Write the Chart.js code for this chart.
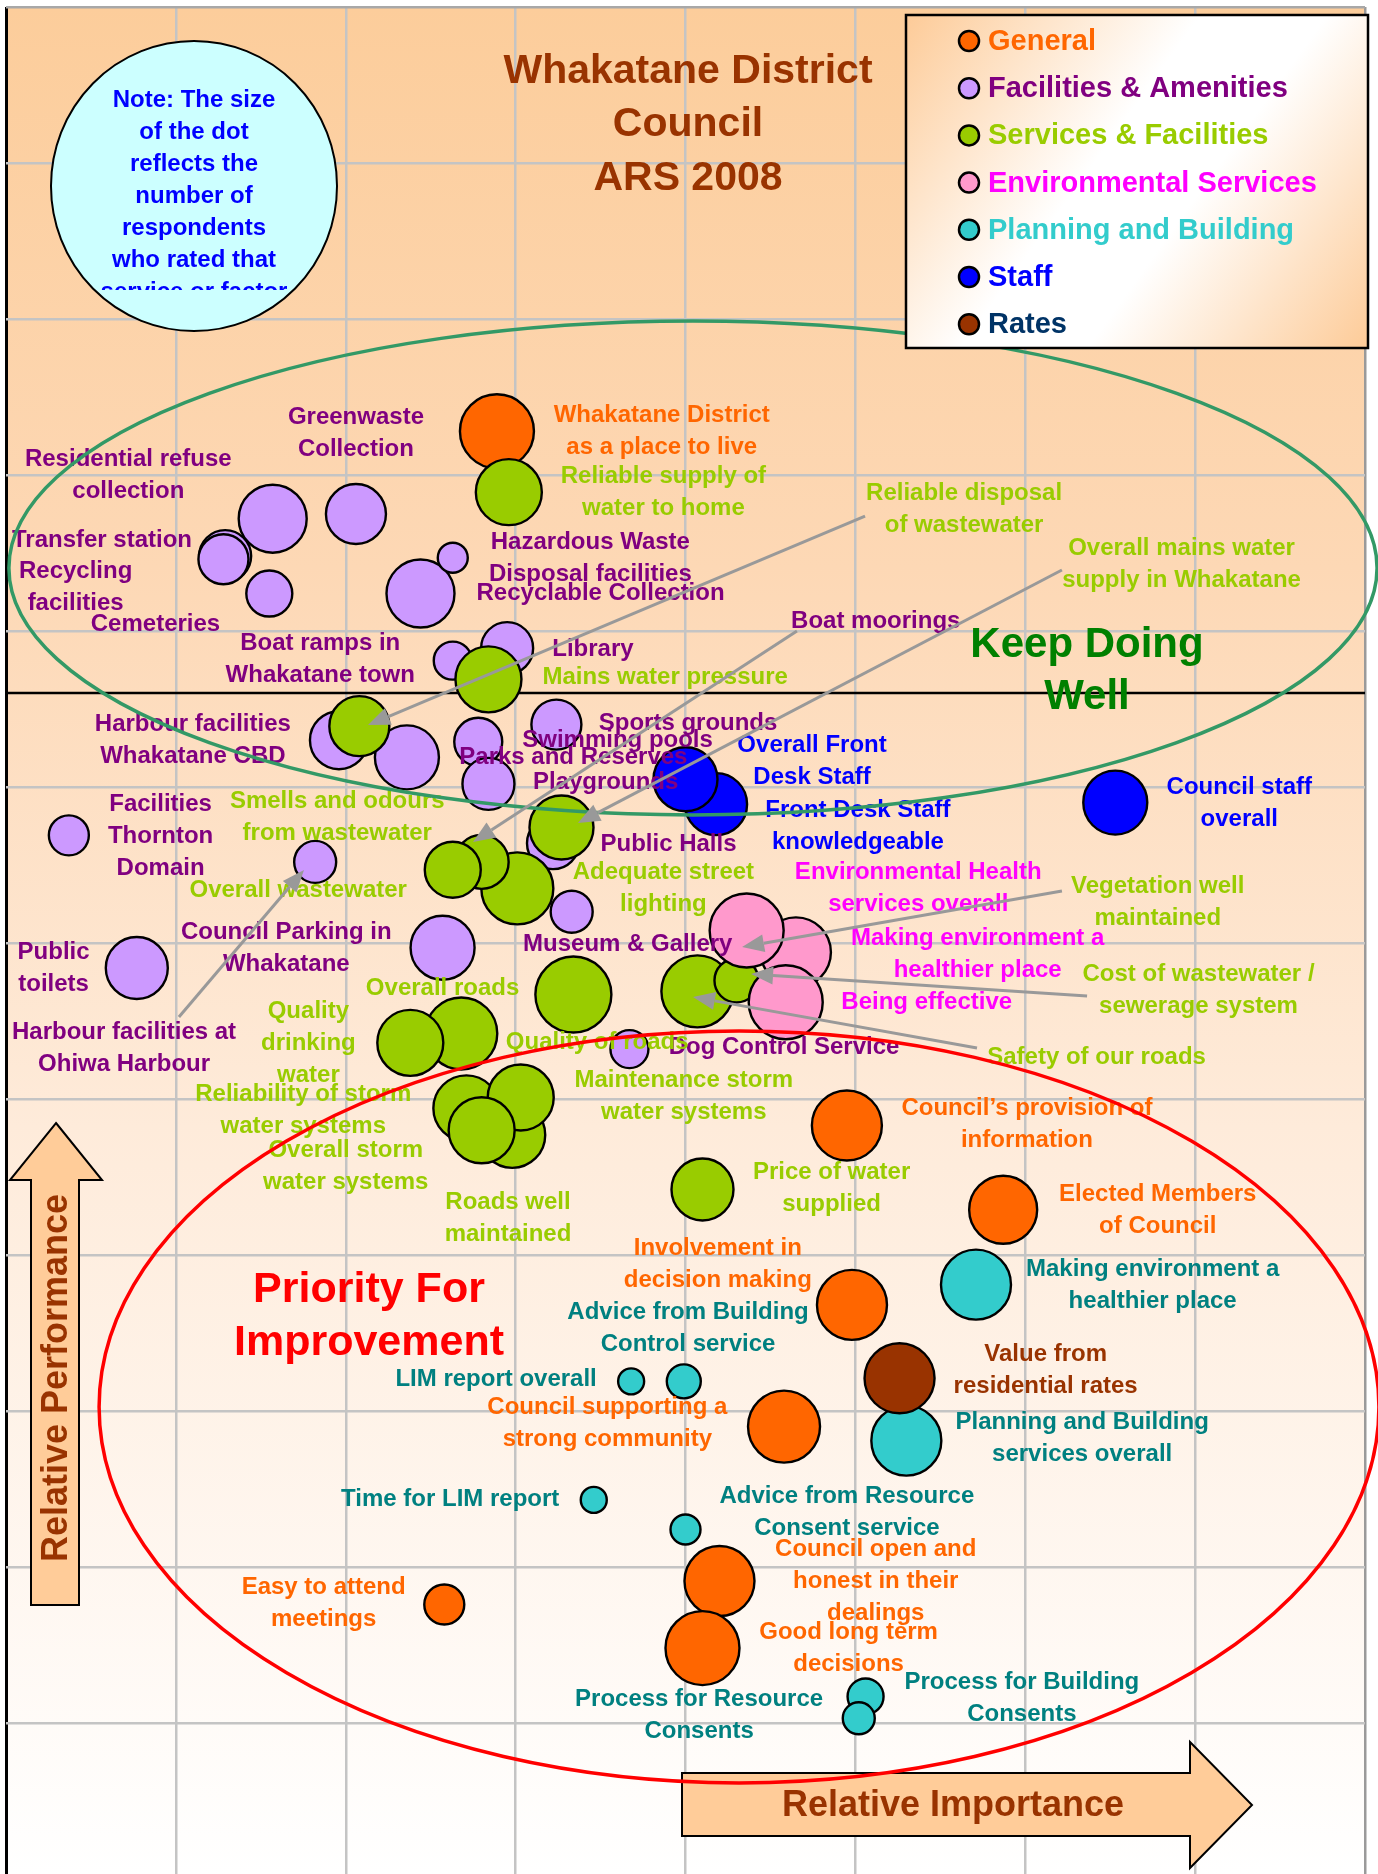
<!DOCTYPE html>
<html>
<head>
<meta charset="utf-8">
<script src="https://cdn.jsdelivr.net/npm/chart.js@4.4.1/dist/chart.umd.min.js"></script>
<style>
  html, body { margin: 0; padding: 0; background: #fff; overflow: hidden; }
  canvas { display: block; }
</style>
</head>
<body>
<canvas id="chart" width="1378" height="1874"></canvas>
<script>
// grid lines (relative importance across, relative performance up)
const x_grid = [0, 1, 2, 3, 4, 5, 6, 7, 8];
const y_grid = [1, 2, 3, 4, 5, 6, 7, 8, 9, 10, 11, 12];
const split_line = 7.6;   // black divider between the two zones

// ---- series (x = importance, y = performance, r = dot size) ----
const general_names = ["Whakatane District as a place to live", "Council’s provision of information",
  "Elected Members of Council", "Involvement in decision making", "Council supporting a strong community",
  "Council open and honest in their dealings", "Good long term decisions", "Easy to attend meetings"];
const general_x = [2.89, 4.95, 5.87, 4.98, 4.58, 4.20, 4.10, 2.58];
const general_y = [9.28, 4.83, 4.29, 3.68, 2.90, 1.91, 1.48, 1.76];
const general_r = [37, 35, 34, 35, 36, 35, 37, 20];

const facilities_names = ["Transfer station", "Recycling facilities", "Residential refuse collection",
  "Greenwaste Collection", "Cemeteries", "Recyclable Collection", "Hazardous Waste Disposal facilities",
  "Boat ramps in Whakatane town", "Library", "Harbour facilities", "Whakatane CBD", "Parks and Reserves",
  "Playgrounds", "Sports grounds", "Public Halls", "Facilities Thornton Domain",
  "Harbour facilities at Ohiwa Harbour", "Public toilets", "Council Parking in Whakatane",
  "Museum & Gallery", "Dog Control Service"];
const facilities_x = [1.29, 1.28, 1.57, 2.06, 1.55, 2.44, 2.63, 2.63, 2.95, 1.96, 2.36, 2.78, 2.84, 3.24, 3.22, 0.37, 1.82, 0.77, 2.57, 3.33, 3.67];
const facilities_y = [8.48, 8.46, 8.72, 8.75, 8.24, 8.24, 8.47, 7.81, 7.89, 7.30, 7.19, 7.29, 7.02, 7.40, 6.64, 6.69, 6.52, 5.84, 5.97, 6.20, 5.32];
const facilities_r = [26, 25, 34, 30, 23, 34, 15, 19, 26, 29, 32, 24, 26, 25, 26, 20, 21, 31, 32, 21, 19];

const services_names = ["Reliable supply of water to home", "Mains water pressure", "Reliable disposal of wastewater",
  "Overall mains water supply in Whakatane", "Adequate street lighting", "Smells and odours from wastewater",
  "Overall wastewater", "Overall roads", "Safety of our roads", "Cost of wastewater / sewerage system",
  "Quality of roads", "Quality drinking water", "Overall storm water systems", "Reliability of storm water systems",
  "Maintenance storm water systems", "Roads well maintained", "Price of water supplied"];
const services_x = [2.96, 2.84, 2.08, 3.27, 3.01, 2.80, 2.63, 3.34, 4.07, 4.30, 2.68, 2.38, 2.98, 2.71, 3.03, 2.80, 4.10];
const services_y = [8.89, 7.69, 7.39, 6.74, 6.35, 6.52, 6.47, 5.67, 5.69, 5.76, 5.42, 5.36, 4.77, 4.94, 5.01, 4.80, 4.42];
const services_r = [33, 33, 30, 32, 36, 27, 28, 38, 36, 22, 36, 33, 33, 33, 33, 33, 31];

const environmental_names = ["Making environment a healthier place", "Being effective", "Environmental Health services overall"];
const environmental_x = [4.65, 4.59, 4.36];
const environmental_y = [5.94, 5.62, 6.08];
const environmental_r = [35, 37, 37];

const planning_names = ["Making environment a healthier place", "Planning and Building services overall",
  "LIM report overall", "Advice from Building Control service", "Time for LIM report",
  "Advice from Resource Consent service", "Process for Building Consents", "Process for Resource Consents"];
const planning_x = [5.71, 5.30, 3.68, 3.99, 3.46, 4.00, 5.06, 5.02];
const planning_y = [3.81, 2.81, 3.19, 3.19, 2.43, 2.24, 1.17, 1.03];
const planning_r = [35, 35, 13, 17, 13, 15, 18, 16];

const staff_names = ["Front Desk Staff knowledgeable", "Overall Front Desk Staff", "Council staff overall"];
const staff_x = [4.18, 4.00, 6.53];
const staff_y = [6.89, 7.05, 6.90];
const staff_r = [31, 32, 32];

const rates_names = ["Value from residential rates"];
const rates_x = [5.26];
const rates_y = [3.21];
const rates_r = [35];

// ---- labels on the plot: [lines, x, y of first line] ----
const purple_labels = [
  [["Residential refuse", "collection"], 0.72, 9.10],
  [["Greenwaste", "Collection"], 2.06, 9.37],
  [["Transfer station"], 0.565, 8.58],
  [["Recycling", "facilities"], 0.41, 8.385],
  [["Cemeteries"], 0.88, 8.04],
  [["Hazardous Waste", "Disposal facilities"], 3.44, 8.57],
  [["Recyclable Collection"], 3.50, 8.24],
  [["Boat ramps in", "Whakatane town"], 1.85, 7.92],
  [["Library"], 3.455, 7.885],
  [["Boat moorings"], 5.12, 8.06],
  [["Harbour facilities", "Whakatane CBD"], 1.10, 7.40],
  [["Sports grounds"], 4.015, 7.41],
  [["Swimming pools"], 3.60, 7.30],
  [["Parks and Reserves"], 3.34, 7.19],
  [["Playgrounds"], 3.53, 7.03],
  [["Public Halls"], 3.90, 6.63],
  [["Facilities", "Thornton", "Domain"], 0.91, 6.89],
  [["Council Parking in", "Whakatane"], 1.65, 6.07],
  [["Museum & Gallery"], 3.66, 5.99],
  [["Public", "toilets"], 0.28, 5.94],
  [["Harbour facilities at", "Ohiwa Harbour"], 0.695, 5.43],
  [["Dog Control Service"], 4.58, 5.33]
];
const green_labels = [
  [["Reliable supply of", "water to home"], 3.87, 8.99],
  [["Reliable disposal", "of wastewater"], 5.64, 8.885],
  [["Overall mains water", "supply in Whakatane"], 6.92, 8.53],
  [["Mains water pressure"], 3.88, 7.70],
  [["Smells and odours", "from wastewater"], 1.95, 6.91],
  [["Overall wastewater"], 1.72, 6.34],
  [["Adequate street", "lighting"], 3.87, 6.455],
  [["Overall roads"], 2.57, 5.71],
  [["Quality", "drinking", "water"], 1.78, 5.56],
  [["Quality of roads"], 3.48, 5.36],
  [["Reliability of storm", "water systems"], 1.75, 5.03],
  [["Maintenance storm", "water systems"], 3.99, 5.12],
  [["Overall storm", "water systems"], 2.00, 4.67],
  [["Roads well", "maintained"], 2.955, 4.34],
  [["Price of water", "supplied"], 4.86, 4.53],
  [["Vegetation well", "maintained"], 6.78, 6.365],
  [["Cost of wastewater /", "sewerage system"], 7.02, 5.80],
  [["Safety of our roads"], 6.42, 5.27]
];
const pink_labels = [
  [["Environmental Health", "services overall"], 5.37, 6.45],
  [["Making environment a", "healthier place"], 5.72, 6.03],
  [["Being effective"], 5.42, 5.62]
];
const blue_labels = [
  [["Overall Front", "Desk Staff"], 4.745, 7.27],
  [["Front Desk Staff", "knowledgeable"], 5.015, 6.85],
  [["Council staff", "overall"], 7.26, 7.00]
];
const orange_labels = [
  [["Whakatane District", "as a place to live"], 3.86, 9.385],
  [["Council’s provision of", "information"], 6.01, 4.94],
  [["Elected Members", "of Council"], 6.78, 4.39],
  [["Involvement in", "decision making"], 4.19, 4.04],
  [["Council supporting a", "strong community"], 3.54, 3.02],
  [["Easy to attend", "meetings"], 1.87, 1.87],
  [["Council open and", "honest in their", "dealings"], 5.12, 2.115],
  [["Good long term", "decisions"], 4.96, 1.58]
];
const teal_labels = [
  [["Advice from Building", "Control service"], 4.015, 3.63],
  [["LIM report overall"], 2.885, 3.20],
  [["Time for LIM report"], 2.615, 2.435],
  [["Making environment a", "healthier place"], 6.75, 3.91],
  [["Planning and Building", "services overall"], 6.335, 2.93],
  [["Advice from Resource", "Consent service"], 4.95, 2.45],
  [["Process for Building", "Consents"], 5.98, 1.26],
  [["Process for Resource", "Consents"], 4.08, 1.15]
];
const brown_labels = [
  [["Value from", "residential rates"], 6.12, 3.36]
];

// pointer arrows: [from x, from y, to x, to y]
const pointers = [
  [5.057, 8.737, 2.131, 7.397],
  [4.656, 8.000, 2.749, 6.647],
  [6.216, 8.391, 3.367, 6.769],
  [1.018, 5.526, 1.754, 6.468],
  [6.216, 6.333, 4.333, 5.974],
  [6.364, 5.660, 4.386, 5.801],
  [5.716, 5.327, 4.044, 5.654]
];
// zone ellipses: [centre x, centre y, half width, half height]
const keep_zone = [4.044, 8.404, 4.027, 1.583];
const priority_zone = [4.315, 3.026, 3.767, 2.410];

const legend_names = ["General", "Facilities & Amenities", "Services & Facilities", "Environmental Services",
  "Planning and Building", "Staff", "Rates"];
const legend_dots = ["#FF6600", "#CC99FF", "#99CC00", "#FF99CC", "#33CCCC", "#0000FF", "#993300"];
const legend_text = ["#FF6600", "#800080", "#99CC00", "#FF00FF", "#33CCCC", "#0000FF", "#003366"];

const note_lines = ["Note: The size", "of the dot", "reflects the", "number of", "respondents",
  "who rated that", "service or factor"];

const FONT = '"Liberation Sans", Arial, sans-serif';
const LINE_H = 32;

function points(xs, ys, rs) {
  return xs.map((x, i) => ({ x: x, y: ys[i], r: rs[i] }));
}

function series(label, names, xs, ys, rs, fill, order) {
  return {
    label: label,
    names: names,
    data: points(xs, ys, rs),
    backgroundColor: fill,
    borderColor: "#000",
    borderWidth: 2.4,
    hoverRadius: 0,
    clip: false,
    order: order
  };
}

function drawLabels(ctx, chart, list, color) {
  const xs = chart.scales.x, ys = chart.scales.y;
  ctx.fillStyle = color;
  list.forEach(([lines, x, y]) => {
    lines.forEach((t, i) => {
      ctx.fillText(t, xs.getPixelForValue(x), ys.getPixelForValue(y) + i * LINE_H);
    });
  });
}

function drawPointer(ctx, x1, y1, x2, y2) {
  const ang = Math.atan2(y2 - y1, x2 - x1);
  const hl = 22, hw = 9;
  const bx = x2 - hl * Math.cos(ang), by = y2 - hl * Math.sin(ang);
  ctx.beginPath();
  ctx.moveTo(x1, y1);
  ctx.lineTo(bx, by);
  ctx.stroke();
  ctx.beginPath();
  ctx.moveTo(x2, y2);
  ctx.lineTo(bx + hw * Math.sin(ang), by - hw * Math.cos(ang));
  ctx.lineTo(bx - hw * Math.sin(ang), by + hw * Math.cos(ang));
  ctx.closePath();
  ctx.fill();
}

function drawZone(ctx, chart, z, color) {
  const xs = chart.scales.x, ys = chart.scales.y;
  const cx = xs.getPixelForValue(z[0]), cy = ys.getPixelForValue(z[1]);
  const rx = xs.getPixelForValue(z[0] + z[2]) - cx;
  const ry = cy - ys.getPixelForValue(z[1] + z[3]);
  ctx.strokeStyle = color;
  ctx.lineWidth = 3.5;
  ctx.beginPath();
  ctx.ellipse(cx, cy, rx, ry, 0, 0, Math.PI * 2);
  ctx.stroke();
}

const overlay = {
  id: "overlay",
  beforeDraw(chart) {
    const { ctx, chartArea: a } = chart;
    ctx.save();
    ctx.fillStyle = "#fff";
    ctx.fillRect(0, 0, chart.width, chart.height);
    const g = ctx.createLinearGradient(0, a.top, 0, a.bottom);
    g.addColorStop(0, "#FCCD9B");
    g.addColorStop(0.3, "#FDD8B5");
    g.addColorStop(0.6, "#FEEBDA");
    g.addColorStop(1, "#FFFFFF");
    ctx.fillStyle = g;
    ctx.fillRect(a.left, a.top, a.right - a.left, a.bottom - a.top);
    ctx.restore();
  },
  beforeDatasetsDraw(chart) {
    const { ctx, chartArea: a } = chart;
    const y = Math.round(chart.scales.y.getPixelForValue(split_line));
    ctx.save();
    ctx.strokeStyle = "#000";
    ctx.lineWidth = 2.5;
    ctx.beginPath();
    ctx.moveTo(a.left, y);
    ctx.lineTo(a.right, y);
    ctx.stroke();
    ctx.restore();
  },
  afterDatasetsDraw(chart) {
    const { ctx } = chart;
    const xs = chart.scales.x, ys = chart.scales.y;
    ctx.save();
    ctx.textAlign = "center";
    ctx.textBaseline = "middle";
    ctx.font = "bold 24px " + FONT;
    drawLabels(ctx, chart, purple_labels, "#800080");
    drawLabels(ctx, chart, green_labels, "#99CC00");
    drawLabels(ctx, chart, pink_labels, "#FF00FF");
    drawLabels(ctx, chart, blue_labels, "#0000FF");
    drawLabels(ctx, chart, orange_labels, "#FF6600");
    drawLabels(ctx, chart, teal_labels, "#008080");
    drawLabels(ctx, chart, brown_labels, "#993300");

    // axis arrows
    ctx.fillStyle = "#FFCC99";
    ctx.strokeStyle = "#000";
    ctx.lineWidth = 2;
    ctx.beginPath();
    ctx.moveTo(56, 1123); ctx.lineTo(102, 1180); ctx.lineTo(79, 1180); ctx.lineTo(79, 1605);
    ctx.lineTo(31, 1605); ctx.lineTo(31, 1180); ctx.lineTo(10, 1180); ctx.closePath();
    ctx.fill(); ctx.stroke();
    ctx.beginPath();
    ctx.moveTo(682, 1773); ctx.lineTo(1190, 1773); ctx.lineTo(1190, 1742); ctx.lineTo(1252, 1805);
    ctx.lineTo(1190, 1868); ctx.lineTo(1190, 1836); ctx.lineTo(682, 1836); ctx.closePath();
    ctx.fill(); ctx.stroke();
    ctx.fillStyle = "#993300";
    ctx.font = "bold 36px " + FONT;
    ctx.fillText("Relative Importance", 953, 1806);
    ctx.save();
    ctx.translate(56, 1378);
    ctx.rotate(-Math.PI / 2);
    ctx.font = "bold 36px " + FONT;
    ctx.fillText("Relative Performance", 0, 1);
    ctx.restore();

    // zones
    drawZone(ctx, chart, keep_zone, "#339966");
    drawZone(ctx, chart, priority_zone, "#FF0000");

    // pointers
    ctx.strokeStyle = "#999999";
    ctx.fillStyle = "#999999";
    ctx.lineWidth = 3;
    pointers.forEach(p => drawPointer(ctx, xs.getPixelForValue(p[0]), ys.getPixelForValue(p[1]),
      xs.getPixelForValue(p[2]), ys.getPixelForValue(p[3])));

    // zone names
    ctx.font = "bold 42px " + FONT;
    ctx.fillStyle = "#008000";
    ctx.fillText("Keep Doing", 1087, 645);
    ctx.fillText("Well", 1087, 697);
    ctx.fillStyle = "#FF0000";
    ctx.font = "bold 43px " + FONT;
    ctx.fillText("Priority For", 369, 1290);
    ctx.fillText("Improvement", 369, 1343);

    // title
    ctx.fillStyle = "#993300";
    ctx.font = "bold 41px " + FONT;
    ctx.fillText("Whakatane District", 688, 72);
    ctx.fillText("Council", 688, 125);
    ctx.fillText("ARS 2008", 688, 179);

    // note bubble
    ctx.beginPath();
    ctx.ellipse(194, 186, 143, 145, 0, 0, Math.PI * 2);
    ctx.fillStyle = "#CCFFFF";
    ctx.fill();
    ctx.strokeStyle = "#000";
    ctx.lineWidth = 2;
    ctx.stroke();
    ctx.save();
    ctx.beginPath();
    ctx.rect(50, 40, 290, 250);
    ctx.clip();
    ctx.fillStyle = "#0000FF";
    ctx.font = "bold 24px " + FONT;
    note_lines.forEach((t, i) => ctx.fillText(t, 194, 100 + i * LINE_H));
    ctx.restore();

    // legend box
    const lg = ctx.createLinearGradient(906, 15, 1368, 348);
    lg.addColorStop(0, "#FDCB98");
    lg.addColorStop(0.42, "#FFFFFF");
    lg.addColorStop(0.6, "#FFFFFF");
    lg.addColorStop(1, "#FDCB98");
    ctx.fillStyle = lg;
    ctx.fillRect(906, 15, 462, 333);
    ctx.lineWidth = 2.5;
    ctx.strokeStyle = "#000";
    ctx.strokeRect(906, 15, 462, 333);
    ctx.textAlign = "left";
    ctx.font = "bold 29px " + FONT;
    legend_names.forEach((t, i) => {
      const y = 41 + i * 47.2;
      ctx.beginPath();
      ctx.arc(969, y, 10, 0, Math.PI * 2);
      ctx.fillStyle = legend_dots[i];
      ctx.fill();
      ctx.lineWidth = 2.5;
      ctx.stroke();
      ctx.fillStyle = legend_text[i];
      ctx.fillText(t, 988, y + 1);
    });
    ctx.restore();
  }
};

const datasets = [
  series("General", general_names, general_x, general_y, general_r, "#FF6600", 7),
  series("Facilities & Amenities", facilities_names, facilities_x, facilities_y, facilities_r, "#CC99FF", 6),
  series("Services & Facilities", services_names, services_x, services_y, services_r, "#99CC00", 5),
  series("Environmental Services", environmental_names, environmental_x, environmental_y, environmental_r, "#FF99CC", 4),
  series("Planning and Building", planning_names, planning_x, planning_y, planning_r, "#33CCCC", 3),
  series("Staff", staff_names, staff_x, staff_y, staff_r, "#0000FF", 2),
  series("Rates", rates_names, rates_x, rates_y, rates_r, "#993300", 1)
];

new Chart(document.getElementById("chart"), {
  type: "bubble",
  data: { datasets: datasets },
  options: {
    responsive: false,
    animation: false,
    devicePixelRatio: 1,
    events: [],
    layout: { autoPadding: false, padding: { left: 6, top: 7, right: 13, bottom: 0 } },
    plugins: { legend: { display: false }, tooltip: { enabled: false } },
    scales: {
      x: {
        type: "linear", min: 0, max: 8,
        ticks: { display: false },
        border: { display: false },
        afterBuildTicks: s => { s.ticks = x_grid.map(v => ({ value: v })); },
        grid: {
          drawTicks: false,
          color: c => c.tick.value === 0 ? "#000" : (c.tick.value === 8 ? "#9A9A9A" : "#C4C4C4"),
          lineWidth: c => c.tick.value === 0 ? 3 : 2.5
        }
      },
      y: {
        type: "linear", min: 0.032, max: 12,
        ticks: { display: false },
        border: { display: false },
        afterBuildTicks: s => { s.ticks = y_grid.map(v => ({ value: v })); },
        grid: {
          drawTicks: false,
          color: c => c.tick.value === 12 ? "#A8A8A8" : "#C4C4C4",
          lineWidth: 2.5
        }
      }
    }
  },
  plugins: [overlay]
});
</script>
</body>
</html>
